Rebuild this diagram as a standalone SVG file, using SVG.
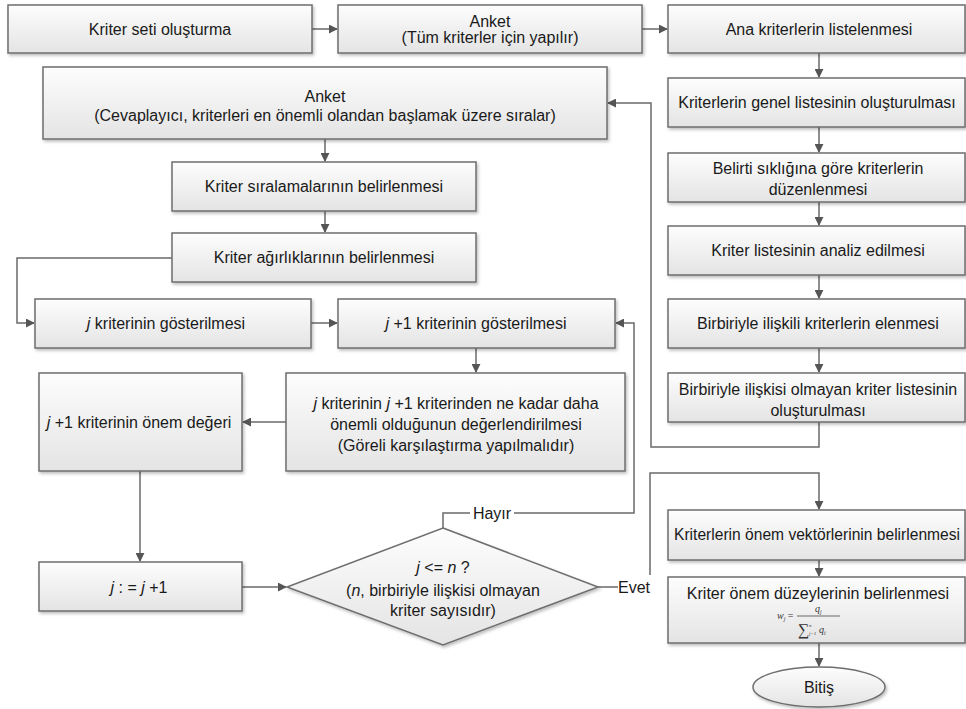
<svg xmlns="http://www.w3.org/2000/svg" width="966" height="709" viewBox="0 0 966 709">
<defs>
<linearGradient id="g" x1="0" y1="0" x2="0" y2="1">
<stop offset="0" stop-color="#fdfdfd"/>
<stop offset="1" stop-color="#e4e4e4"/>
</linearGradient>
<filter id="sh" x="-5%" y="-10%" width="110%" height="130%">
<feDropShadow dx="1.5" dy="2" stdDeviation="1.5" flood-color="#000" flood-opacity="0.25"/>
</filter>
<marker id="ar" viewBox="0 0 10 10" refX="9" refY="5" markerWidth="9" markerHeight="9" markerUnits="userSpaceOnUse" orient="auto">
<path d="M0,0 L10,5 L0,10 z" fill="#555"/>
</marker>
</defs>
<style>
.b{fill:url(#g);stroke:#6e6e6e;stroke-width:1.5;filter:url(#sh)}
.t{font-family:"Liberation Sans",Arial,sans-serif;font-size:16px;fill:#1a1a1a;text-anchor:middle}
.c{fill:none;stroke:#6a6a6a;stroke-width:1.5}
.a{marker-end:url(#ar)}
.i{font-style:italic}
.f{font-family:"Liberation Serif","Times New Roman",serif;font-style:italic;fill:#333}
</style>
<rect width="966" height="709" fill="#fff"/>
<g id="connectors">
<path class="c a" d="M312,29 H337"/>
<path class="c a" d="M642,29 H667"/>
<path class="c a" d="M819,53 V77"/>
<path class="c a" d="M819,127 V152"/>
<path class="c a" d="M819,202 V225"/>
<path class="c a" d="M819,275 V298"/>
<path class="c a" d="M819,348 V372"/>
<path class="c a" d="M819,422 V447 H651 V103 H608"/>
<path class="c a" d="M325,139 V161"/>
<path class="c a" d="M325,211 V232"/>
<path class="c a" d="M172,258 H17 V323 H34"/>
<path class="c a" d="M311,323 H337"/>
<path class="c a" d="M476,348 V372"/>
<path class="c a" d="M286,422 H243"/>
<path class="c a" d="M140,471 V561"/>
<path class="c a" d="M242,587 H286"/>
<path class="c" d="M443,528 V513 H470"/>
<path class="c a" d="M514,513 H634 V323 H616"/>
<path class="c" d="M598,587 H618"/>
<path class="c a" d="M650,575 V473 H819 V509"/>
<path class="c a" d="M819,560 V576"/>
<path class="c a" d="M819,643 V666"/>
<text class="t" x="492" y="519">Hayır</text>
<text class="t" x="634" y="593">Evet</text>
</g>
<g id="n1"><rect class="b" x="8" y="5" width="304" height="48"/><text class="t" x="160" y="35">Kriter seti oluşturma</text></g>
<g id="n2"><rect class="b" x="338" y="5" width="304" height="48"/><text class="t" x="490" y="27">Anket</text><text class="t" x="490" y="43">(Tüm kriterler için yapılır)</text></g>
<g id="n3"><rect class="b" x="668" y="5" width="297" height="48"/><text class="t" x="819" y="35">Ana kriterlerin listelenmesi</text></g>
<g id="n4"><rect class="b" x="668" y="78" width="297" height="49"/><text class="t" x="817" y="108">Kriterlerin genel listesinin oluşturulması</text></g>
<g id="n5"><rect class="b" x="668" y="153" width="297" height="49"/><text class="t" x="818" y="174">Belirti sıklığına göre kriterlerin</text><text class="t" x="818" y="195">düzenlenmesi</text></g>
<g id="n6"><rect class="b" x="668" y="226" width="297" height="49"/><text class="t" x="818" y="256">Kriter listesinin analiz edilmesi</text></g>
<g id="n7"><rect class="b" x="668" y="299" width="297" height="49"/><text class="t" x="818" y="329">Birbiriyle ilişkili kriterlerin elenmesi</text></g>
<g id="n8"><rect class="b" x="668" y="373" width="297" height="49"/><text class="t" x="818" y="395">Birbiriyle ilişkisi olmayan kriter listesinin</text><text class="t" x="818" y="416">oluşturulması</text></g>
<g id="n9"><rect class="b" x="43" y="67" width="564" height="72"/><text class="t" x="325" y="102">Anket</text><text class="t" x="325" y="121">(Cevaplayıcı, kriterleri en önemli olandan başlamak üzere sıralar)</text></g>
<g id="n10"><rect class="b" x="172" y="162" width="304" height="49"/><text class="t" x="324" y="192">Kriter sıralamalarının belirlenmesi</text></g>
<g id="n11"><rect class="b" x="172" y="233" width="304" height="49"/><text class="t" x="324" y="263">Kriter ağırlıklarının belirlenmesi</text></g>
<g id="n12"><rect class="b" x="35" y="299" width="276" height="49"/><text class="t" x="166" y="329"><tspan class="i">j</tspan> kriterinin gösterilmesi</text></g>
<g id="n13"><rect class="b" x="338" y="299" width="277" height="49"/><text class="t" x="476" y="329"><tspan class="i">j</tspan> +1 kriterinin gösterilmesi</text></g>
<g id="n14"><rect class="b" x="286" y="373" width="339" height="98"/><text class="t" x="456" y="409"><tspan class="i">j</tspan> kriterinin <tspan class="i">j</tspan> +1 kriterinden ne kadar daha</text><text class="t" x="456" y="430">önemli olduğunun değerlendirilmesi</text><text class="t" x="456" y="451">(Göreli karşılaştırma yapılmalıdır)</text></g>
<g id="n15"><rect class="b" x="39" y="373" width="203" height="98"/><text class="t" x="139" y="428"><tspan class="i">j</tspan> +1 kriterinin önem değeri</text></g>
<g id="n16"><rect class="b" x="39" y="562" width="203" height="49"/><text class="t" x="139" y="593"><tspan class="i">j</tspan> : = <tspan class="i">j</tspan> +1</text></g>
<g id="n17"><polygon class="b" points="443,528 598,587 443,645 287,587"/><text class="t" x="443" y="573"><tspan class="i">j</tspan> &lt;= <tspan class="i">n</tspan> ?</text><text class="t" x="443" y="596">(<tspan class="i">n</tspan>, birbiriyle ilişkisi olmayan</text><text class="t" x="443" y="616">kriter sayısıdır)</text></g>
<g id="n18"><rect class="b" x="668" y="510" width="297" height="50"/><text class="t" x="817" y="540" style="font-size:15.6px">Kriterlerin önem vektörlerinin belirlenmesi</text></g>
<g id="n19"><rect class="b" x="668" y="577" width="297" height="66"/><text class="t" x="818" y="599">Kriter önem düzeylerinin belirlenmesi</text>
<text class="f" x="777" y="619" font-size="10">w<tspan font-size="6" dy="2">j</tspan><tspan dy="-2" font-style="normal"> =</tspan></text>
<text class="f" x="815" y="612" font-size="10">q<tspan font-size="6" dy="2">j</tspan></text>
<line x1="797" y1="616" x2="840" y2="616" stroke="#444" stroke-width="0.8"/>
<text class="f" x="798" y="635" font-size="16" font-style="normal">∑</text>
<text class="f" x="809" y="627" font-size="5">n</text>
<text class="f" x="809" y="635" font-size="5">j=1</text>
<text class="f" x="819" y="633" font-size="10">q<tspan font-size="6" dy="2">i</tspan></text>
</g>
<g id="n20"><ellipse class="b" cx="819" cy="687" rx="66" ry="20"/><text class="t" x="819" y="693">Bitiş</text></g>
</svg>
